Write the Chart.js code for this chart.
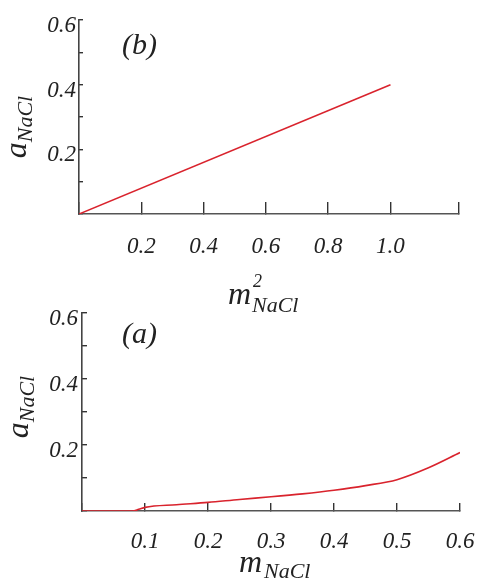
<!DOCTYPE html>
<html><head><meta charset="utf-8">
<script src="https://cdn.jsdelivr.net/npm/chart.js@4/dist/chart.umd.min.js"></script>
<style>
html,body{margin:0;padding:0;background:#fff;}
#wrap{position:relative;width:479px;height:581px;overflow:hidden;}
canvas{position:absolute;left:0;}
.t{position:absolute;font-family:"Liberation Serif",serif;font-style:italic;color:#222;white-space:nowrap;line-height:1;}
.rot{position:absolute;font-family:"Liberation Serif",serif;font-style:italic;color:#222;white-space:nowrap;line-height:1;font-size:32px;transform:translate(-50%,-50%) rotate(-90deg);}
.rot .s{font-size:22px;position:relative;top:6px;}
</style>
</head><body>
<div id="wrap">
  <canvas id="cTop" width="479" height="290" style="top:0"></canvas>
  <canvas id="cBot" width="479" height="291" style="top:290px"></canvas>
  <div class="t" style="left:122px;top:29px;font-size:30px;">(b)</div>
  <div class="t" style="left:122px;top:318px;font-size:30px;">(a)</div>
  <div class="rot" style="left:15px;top:127px;">a<span class="s">NaCl</span></div>
  <div class="rot" style="left:17px;top:407px;">a<span class="s">NaCl</span></div>
  <div class="t" style="left:228px;top:277px;font-size:32px;">m</div>
  <div class="t" style="left:253px;top:272px;font-size:18px;">2</div>
  <div class="t" style="left:252px;top:294px;font-size:22px;">NaCl</div>
  <div class="t" style="left:239px;top:545px;font-size:32px;">m</div>
  <div class="t" style="left:264px;top:560px;font-size:22px;">NaCl</div>
</div>
<script>
// ---- data ----
const topX = [0, 1.0];
const topY = [0, 0.4];
const topXTicks = [0, 0.2, 0.4, 0.6, 0.8, 1.0, 1.22];
const topXLabels = ['', '0.2', '0.4', '0.6', '0.8', '1.0', ''];
const topXMax = 1.22;

const botX = [0, 0.05, 0.08, 0.09, 0.1, 0.15, 0.2, 0.25, 0.3, 0.35, 0.4, 0.45, 0.5, 0.55, 0.6];
const botY = [0, 0, 0, 0.005, 0.011, 0.019, 0.026, 0.035, 0.043, 0.052, 0.063, 0.077, 0.095, 0.131, 0.177];
const botXTicks = [0, 0.1, 0.2, 0.3, 0.4, 0.5, 0.6];
const botXLabels = ['', '0.1', '0.2', '0.3', '0.4', '0.5', '0.6'];
const botXMax = 0.6;

const yTicks = [0, 0.1, 0.2, 0.3, 0.4, 0.5, 0.6];
const yLabels = ['', '', '0.2', '', '0.4', '', '0.6'];
const yMax = 0.6;

const RED = '#d9232d';
const AX = '#555';
const TXT = '#222';
const tickFont = {family: 'Liberation Serif', style: 'italic', size: 23};

function labelFrom(vals, labs) {
  return function(v) {
    for (let i = 0; i < vals.length; i++) if (Math.abs(vals[i] - v) < 1e-9) return labs[i];
    return '';
  };
}

function makeChart(id, xs, ys, o) {
  const pts = xs.map((x, i) => ({x: x, y: ys[i]}));
  return new Chart(document.getElementById(id), {
    type: 'line',
    data: {datasets: [{data: pts, borderColor: RED, borderWidth: 1.6, pointRadius: 0, fill: false,
      cubicInterpolationMode: 'monotone'}]},
    options: {
      responsive: false, animation: false,
      layout: {padding: {left: 0, top: o.padTop, right: o.padRight, bottom: 0}},
      plugins: {legend: {display: false}, tooltip: {enabled: false}},
      scales: {
        x: {
          type: 'linear', min: 0, max: o.xMax,
          afterBuildTicks: s => { s.ticks = o.xTicks.map(v => ({value: v})); },
          afterFit: s => { s.height = o.xH; s.paddingLeft = 0; s.paddingRight = 0; },
          border: {display: true, color: AX, width: 1.6},
          grid: {drawOnChartArea: false, drawTicks: true, tickLength: -o.xTL, color: '#333', lineWidth: 1.4},
          ticks: {padding: o.xPad, autoSkip: false, maxRotation: 0, minRotation: 0, font: tickFont, color: TXT,
            callback: labelFrom(o.xTicks, o.xLabels)}
        },
        y: {
          type: 'linear', min: 0, max: yMax,
          afterBuildTicks: s => { s.ticks = yTicks.map(v => ({value: v})); },
          afterFit: s => { s.width = o.yW; s.paddingTop = 0; s.paddingBottom = 0; },
          border: {display: true, color: '#444', width: 1.6},
          grid: {drawOnChartArea: false, drawTicks: true, tickLength: -o.yTL, color: '#333', lineWidth: 1.4},
          ticks: {padding: o.yPad, autoSkip: false, labelOffset: 6, font: tickFont, color: TXT,
            callback: labelFrom(yTicks, yLabels)}
        }
      }
    }
  });
}

makeChart('cTop', topX, topY, {padTop: 20, padRight: 20, xMax: topXMax, xTicks: topXTicks, xLabels: topXLabels,
  xH: 76, xTL: 12, xPad: 31, yW: 79, yTL: 4, yPad: 7});
makeChart('cBot', botX, botY, {padTop: 23, padRight: 19, xMax: botXMax, xTicks: botXTicks, xLabels: botXLabels,
  xH: 70, xTL: 8, xPad: 25, yW: 82, yTL: 5, yPad: 9});
</script>
</body></html>
